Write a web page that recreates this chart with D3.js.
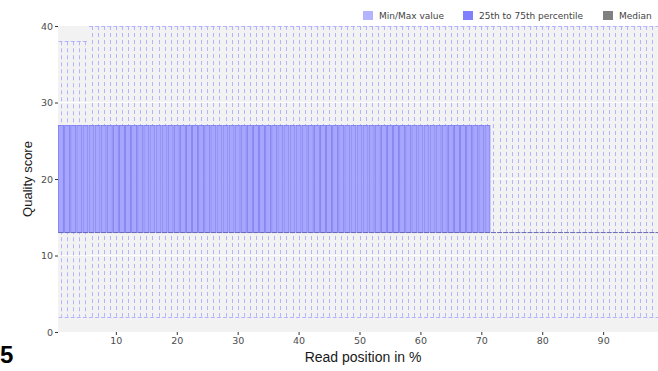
<!DOCTYPE html>
<html>
<head>
<meta charset="utf-8">
<script src="https://cdn.jsdelivr.net/npm/d3@7"></script>
<style>
  html, body { margin: 0; padding: 0; background: #fff; }
  svg { display: block; }
</style>
</head>
<body>
<svg id="chart" width="658" height="371"></svg>
<script>
// Per-position quality distribution, positions given as % of read length
const positions = [1,2,3,4,5,6,7,8,9,10,11,12,13,14,15,16,17,18,19,20,21,22,23,24,25,26,27,28,29,30,31,32,33,34,35,36,37,38,39,40,41,42,43,44,45,46,47,48,49,50,51,52,53,54,55,56,57,58,59,60,61,62,63,64,65,66,67,68,69,70,71,72,73,74,75,76,77,78,79,80,81,82,83,84,85,86,87,88,89,90,91,92,93,94,95,96,97,98,99];
const minValues = [2,2,2,2,2,2,2,2,2,2,2,2,2,2,2,2,2,2,2,2,2,2,2,2,2,2,2,2,2,2,2,2,2,2,2,2,2,2,2,2,2,2,2,2,2,2,2,2,2,2,2,2,2,2,2,2,2,2,2,2,2,2,2,2,2,2,2,2,2,2,2,2,2,2,2,2,2,2,2,2,2,2,2,2,2,2,2,2,2,2,2,2,2,2,2,2,2,2,2];
const maxValues = [38,38,38,38,38,40,40,40,40,40,40,40,40,40,40,40,40,40,40,40,40,40,40,40,40,40,40,40,40,40,40,40,40,40,40,40,40,40,40,40,40,40,40,40,40,40,40,40,40,40,40,40,40,40,40,40,40,40,40,40,40,40,40,40,40,40,40,40,40,40,40,40,40,40,40,40,40,40,40,40,40,40,40,40,40,40,40,40,40,40,40,40,40,40,40,40,40,40,40];
const q1Values = [13,13,13,13,13,13,13,13,13,13,13,13,13,13,13,13,13,13,13,13,13,13,13,13,13,13,13,13,13,13,13,13,13,13,13,13,13,13,13,13,13,13,13,13,13,13,13,13,13,13,13,13,13,13,13,13,13,13,13,13,13,13,13,13,13,13,13,13,13,13,13,13,13,13,13,13,13,13,13,13,13,13,13,13,13,13,13,13,13,13,13,13,13,13,13,13,13,13,13];
const q3Values = [27,27,27,27,27,27,27,27,27,27,27,27,27,27,27,27,27,27,27,27,27,27,27,27,27,27,27,27,27,27,27,27,27,27,27,27,27,27,27,27,27,27,27,27,27,27,27,27,27,27,27,27,27,27,27,27,27,27,27,27,27,27,27,27,27,27,27,27,27,27,27,13,13,13,13,13,13,13,13,13,13,13,13,13,13,13,13,13,13,13,13,13,13,13,13,13,13,13,13];
const medianValues = [13,13,13,13,13,13,13,13,13,13,13,13,13,13,13,13,13,13,13,13,13,13,13,13,13,13,13,13,13,13,13,13,13,13,13,13,13,13,13,13,13,13,13,13,13,13,13,13,13,13,13,13,13,13,13,13,13,13,13,13,13,13,13,13,13,13,13,13,13,13,13,13,13,13,13,13,13,13,13,13,13,13,13,13,13,13,13,13,13,13,13,13,13,13,13,13,13,13,13];
const xTicks = [10,20,30,40,50,60,70,80,90];
const yTicks = [0,10,20,30,40];
const legendItems = ["Min/Max value", "25th to 75th percentile", "Median"];
const legendColors = ["#b3b3ff", "#8080ff", "#808080"];

const svg = d3.select("#chart");
const margin = { left: 58, top: 26, right: -3, bottom: 39 };
const W = 658, H = 371;

const x = d3.scaleLinear().domain([0.5, 99.5]).range([margin.left, W - margin.right]);
const y = d3.scaleLinear().domain([0, 40]).range([H - margin.bottom, margin.top]);

// panel background
svg.append("rect")
  .attr("x", x(0.5)).attr("y", y(40))
  .attr("width", x(99.5) - x(0.5)).attr("height", y(0) - y(40))
  .attr("fill", "#f2f2f2");

// horizontal grid
svg.append("g").selectAll("line").data(yTicks.filter(d => d > 0 && d < 40)).join("line")
  .attr("x1", x(0.5)).attr("x2", x(99.5))
  .attr("y1", d => y(d)).attr("y2", d => y(d))
  .attr("stroke", "#ffffff").attr("stroke-width", 1);

const data = positions.map((p, i) => ({
  pos: p, min: minValues[i], max: maxValues[i],
  q1: q1Values[i], q3: q3Values[i], med: medianValues[i]
}));

const step = x(2) - x(1);
const boxW = step * 0.82;
const whiskerColor = "#b3b3ff";

const g = svg.append("g");

// whiskers: dashed stems and caps
g.selectAll("line.stem").data(data).join("line")
  .attr("class", "stem")
  .attr("x1", d => Math.round(x(d.pos)) + 0.5).attr("x2", d => Math.round(x(d.pos)) + 0.5)
  .attr("y1", d => y(d.max)).attr("y2", d => y(d.min))
  .attr("stroke", whiskerColor).attr("stroke-width", 1)
  .attr("stroke-dasharray", "4,3");

g.selectAll("line.capTop").data(data).join("line")
  .attr("x1", d => x(d.pos) - boxW / 2).attr("x2", d => x(d.pos) + boxW / 2)
  .attr("y1", d => Math.round(y(d.max)) + 0.5).attr("y2", d => Math.round(y(d.max)) + 0.5)
  .attr("stroke", whiskerColor).attr("stroke-width", 1)
  .attr("stroke-dasharray", "4,3");

g.selectAll("line.capBottom").data(data).join("line")
  .attr("x1", d => x(d.pos) - boxW / 2).attr("x2", d => x(d.pos) + boxW / 2)
  .attr("y1", d => Math.round(y(d.min)) + 0.5).attr("y2", d => Math.round(y(d.min)) + 0.5)
  .attr("stroke", whiskerColor).attr("stroke-width", 1)
  .attr("stroke-dasharray", "4,3");

// interquartile boxes
g.selectAll("rect.box").data(data).join("rect")
  .attr("class", "box")
  .attr("x", d => x(d.pos) - boxW / 2)
  .attr("y", d => y(d.q3))
  .attr("width", boxW)
  .attr("height", d => Math.max(0, y(d.q1) - y(d.q3)))
  .attr("fill", "#a6a6ff")
  .attr("stroke", "#7878f0").attr("stroke-width", 0.8);

// medians
g.selectAll("line.median").data(data).join("line")
  .attr("x1", d => x(d.pos) - boxW / 2).attr("x2", d => x(d.pos) + boxW / 2)
  .attr("y1", d => y(d.med)).attr("y2", d => y(d.med))
  .attr("stroke", "#6a6ab8").attr("stroke-width", 1);

// axes
const tickFont = "'DejaVu Sans', sans-serif";
const yAxis = svg.append("g")
  .attr("transform", `translate(${x(0.5)},0)`)
  .call(d3.axisLeft(y).tickValues(yTicks).tickSize(3).tickPadding(2));
yAxis.select(".domain").remove();
yAxis.selectAll("line").attr("stroke", "#333");
yAxis.selectAll("text").attr("fill", "#4d4d4d").style("font-family", tickFont).style("font-size", "9.5px");

const xAxis = svg.append("g")
  .attr("transform", `translate(0,${y(0)})`)
  .call(d3.axisBottom(x).tickValues(xTicks).tickSize(3).tickPadding(2));
xAxis.select(".domain").remove();
xAxis.selectAll("line").attr("stroke", "#333");
xAxis.selectAll("text").attr("fill", "#4d4d4d").style("font-family", tickFont).style("font-size", "9.5px");

// axis titles
const titleFont = "'Liberation Sans', Arial, sans-serif";
svg.append("text")
  .attr("x", 363).attr("y", 362)
  .attr("text-anchor", "middle")
  .style("font-family", titleFont).style("font-size", "14px").attr("fill", "#1a1a1a")
  .text("Read position in %");

svg.append("text")
  .attr("transform", `translate(32,${(y(0) + y(40)) / 2}) rotate(-90)`)
  .attr("text-anchor", "middle")
  .style("font-family", titleFont).style("font-size", "13px").attr("fill", "#1a1a1a")
  .text("Quality score");

// legend
const legendX = [363, 463, 603];
const legend = svg.append("g");
legendItems.forEach((label, i) => {
  legend.append("rect")
    .attr("x", legendX[i]).attr("y", 11).attr("width", 10).attr("height", 9)
    .attr("fill", legendColors[i]);
  legend.append("text")
    .attr("x", legendX[i] + 16).attr("y", 19)
    .style("font-family", tickFont).style("font-size", "9px").attr("fill", "#444")
    .text(label);
});

// panel label in the corner
svg.append("text")
  .attr("x", 0).attr("y", 363)
  .style("font-family", "'Liberation Sans', Arial, sans-serif")
  .style("font-size", "24px").style("font-weight", "bold").attr("fill", "#000")
  .text("5");
</script>
</body>
</html>
